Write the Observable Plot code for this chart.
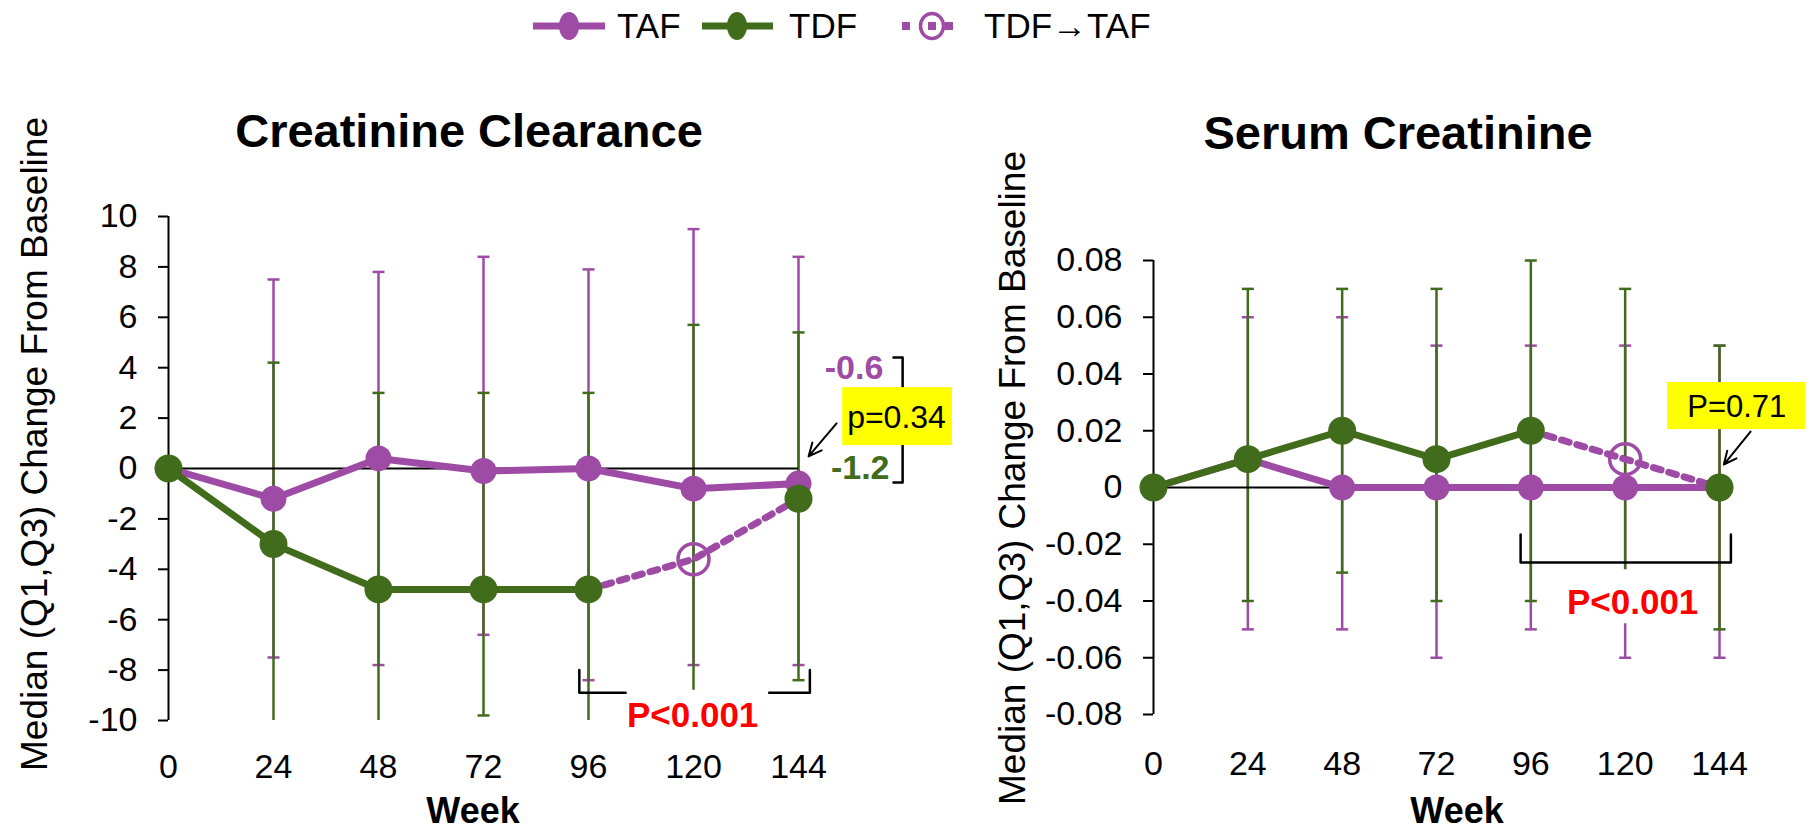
<!DOCTYPE html>
<html><head><meta charset="utf-8">
<script src="https://cdn.jsdelivr.net/npm/d3@7"></script>
<script src="https://cdn.jsdelivr.net/npm/@observablehq/plot@0.6"></script>
<style>
body{margin:0;background:#fff;}
#page{position:relative;width:1820px;height:830px;overflow:hidden;font-family:"Liberation Sans",Arial,sans-serif;background:#fff;}
.chart{position:absolute;top:60px;}
#overlay{position:absolute;left:0;top:0;pointer-events:none;}
</style></head>
<body><div id="page"><div id="left" class="chart" style="left:0"></div><div id="right" class="chart" style="left:920px"></div><svg id="overlay" width="1820" height="830"></svg></div>
<script>
// ---- data ----
const weeks = [0, 24, 48, 72, 96, 120, 144];
const switchWeeks = [96, 120, 144];

// Creatinine clearance (median, Q1, Q3)
const ccTAF   = [0, -1.2, 0.4, -0.1, 0, -0.8, -0.6];
const ccTAFq1 = [null, -7.5, -7.8, -6.6, -8.4, -7.8, -7.8];
const ccTAFq3 = [null, 7.5, 7.8, 8.4, 7.9, 9.5, 8.4];
const ccTDF   = [0, -3.0, -4.8, -4.8, -4.8, null, -1.2];
const ccTDFq1 = [null, -10.6, -10.6, -9.8, -10.6, -10.2, -8.4];
const ccTDFq3 = [null, 4.2, 3.0, 3.0, 3.0, 5.7, 5.4];
const ccSwitch = [-4.8, -3.6, -1.2];

// Serum creatinine (median, Q1, Q3)
const scTAF   = [0, 0.01, 0, 0, 0, 0, 0];
const scTAFq1 = [null, -0.05, -0.05, -0.06, -0.05, -0.06, -0.06];
const scTAFq3 = [null, 0.06, 0.06, 0.05, 0.05, 0.05, 0.05];
const scTDF   = [0, 0.01, 0.02, 0.01, 0.02, null, 0];
const scTDFq1 = [null, -0.04, -0.03, -0.04, -0.04, -0.04, -0.05];
const scTDFq3 = [null, 0.07, 0.07, 0.07, 0.08, 0.07, 0.05];
const scSwitch = [0.02, 0.01, 0];

const ccTicks = [-10, -8, -6, -4, -2, 0, 2, 4, 6, 8, 10];
const scTicks = [-0.08, -0.06, -0.04, -0.02, 0, 0.02, 0.04, 0.06, 0.08];
const weekTicks = [0, 24, 48, 72, 96, 120, 144];

const PURPLE = "#9E4BA6", GREEN = "#416C1C", FONT = "'Liberation Sans', Arial, sans-serif";

// annotations (in data units)
const ccAnn = {
  pText: "P<0.001", pAt: [119.8, -9.8], mask: [105, 137, -8.8, -11],
  brackets: [[[93.9, -8.0], [93.9, -8.9], [104.5, -8.9]], [[137.3, -8.9], [146.6, -8.9], [146.6, -8.0]]],
  box: [154.1, 179.2, 0.91, 3.21], boxText: "p=0.34", boxAt: [166.4, 2.0], boxFont: 32,
  arrow: [152.7, 1.79, 146.3, 0.48],
  extra: true
};
const scAnn = {
  pText: "P<0.001", pAt: [121.9, -0.0405], mask: [105, 139, -0.029, -0.048],
  brackets: [[[93.4, -0.0166], [93.4, -0.0264], [146.9, -0.0264], [146.9, -0.0166]]],
  box: [130.8, 165.9, 0.0204, 0.037], boxText: "P=0.71", boxAt: [148.4, 0.0285], boxFont: 31,
  arrow: [151.9, 0.0197, 145.1, 0.0081],
  extra: false
};

const hbar = { draw(ctx, size) { const r = Math.sqrt(size / Math.PI); ctx.moveTo(-r, 0); ctx.lineTo(r, 0); } };

function rows(vals, q1, q3) {
  return weeks.map((w, i) => ({ week: w, v: vals[i], q1: q1[i], q3: q3[i] }));
}

function errbars(data, color, dom) {
  const [lo, hi] = dom;
  const d = data.filter(r => r.q1 != null && r.q3 != null);
  const inside = k => d.filter(r => r[k] >= lo - 1e-9 && r[k] <= hi + 1e-9);
  return [
    Plot.ruleX(d, { x: "week", y1: r => Math.max(lo, r.q1), y2: r => Math.min(hi, r.q3), stroke: color, strokeWidth: 2.5 }),
    Plot.dot(inside("q1"), { x: "week", y: "q1", symbol: hbar, r: 6, stroke: color, fill: "none", strokeWidth: 2.5 }),
    Plot.dot(inside("q3"), { x: "week", y: "q3", symbol: hbar, r: 6, stroke: color, fill: "none", strokeWidth: 2.5 })
  ];
}

function chart(cfg) {
  const taf = rows(cfg.taf, cfg.tafQ1, cfg.tafQ3);
  const tdf = rows(cfg.tdf, cfg.tdfQ1, cfg.tdfQ3);
  const sw = switchWeeks.map((w, i) => ({ week: w, v: cfg.sw[i] }));
  const a = cfg.ann;
  const marks = [
    ...errbars(taf, PURPLE, cfg.yDomain),
    ...errbars(tdf, GREEN, cfg.yDomain),
    Plot.ruleY([0], { x1: 0, x2: 144, stroke: "black", strokeWidth: 2 }),
    Plot.ruleX([0], { stroke: "black", strokeWidth: 2 }),
    Plot.axisY({ ticks: cfg.yTicks, tickSize: 10, tickPadding: 21, tickFormat: cfg.yFmt, fontSize: 34, strokeWidth: 2, label: null }),
    Plot.axisX({ ticks: weekTicks, tickSize: 0, tickPadding: cfg.xPad, tickFormat: d => String(d), fontSize: 34, label: null }),
    Plot.line(taf, { x: "week", y: "v", stroke: PURPLE, strokeWidth: 7 }),
    Plot.dot(taf, { x: "week", y: "v", r: 13, fill: PURPLE }),
    Plot.line(sw, { x: "week", y: "v", stroke: PURPLE, strokeWidth: 7, strokeDasharray: "8,8" }),
    Plot.dot(sw.filter(d => d.week === 120), { x: "week", y: "v", r: 15.5, stroke: PURPLE, strokeWidth: 3.5, fill: "none" }),
    Plot.line(tdf, { x: "week", y: "v", stroke: GREEN, strokeWidth: 7 }),
    Plot.dot(tdf, { x: "week", y: "v", r: 14, fill: GREEN }),
    // p-value bracket and label
    Plot.rect([a.mask], { x1: d => d[0], x2: d => d[1], y1: d => d[2], y2: d => d[3], fill: "white" }),
    ...a.brackets.map(b => Plot.line(b, { x: d => d[0], y: d => d[1], stroke: "black", strokeWidth: 2.5 })),
    Plot.text([a.pText], { x: a.pAt[0], y: a.pAt[1], text: d => d, fill: "#FF0000", fontWeight: "bold", fontSize: 35, textAnchor: "middle" })
  ];
  if (a.extra) {
    const lastTAF = cfg.taf[cfg.taf.length - 1], lastTDF = cfg.tdf[cfg.tdf.length - 1];
    marks.push(
      Plot.text([lastTAF], { x: 163.4, y: 3.97, text: d => String(d), fill: PURPLE, fontWeight: "bold", fontSize: 34, textAnchor: "end" }),
      Plot.text([lastTDF], { x: 164.8, y: 0.0, text: d => String(d), fill: GREEN, fontWeight: "bold", fontSize: 34, textAnchor: "end" }),
      Plot.line([[165.7, 4.4], [167.8, 4.4], [167.8, -0.56], [165.7, -0.56]], { x: d => d[0], y: d => d[1], stroke: "black", strokeWidth: 2.5 })
    );
  }
  marks.push(
    // yellow box on top of the bracket
    Plot.rect([a.box], { x1: d => d[0], x2: d => d[1], y1: d => d[2], y2: d => d[3], fill: "#FFFF00" }),
    Plot.text([a.boxText], { x: a.boxAt[0], y: a.boxAt[1], text: d => d, fill: "black", fontSize: a.boxFont, textAnchor: "middle" }),
    Plot.arrow([a.arrow], { x1: d => d[0], y1: d => d[1], x2: d => d[2], y2: d => d[3], stroke: "black", strokeWidth: 2, headLength: 16, headAngle: 50 })
  );
  return Plot.plot({
    width: cfg.width, height: 770,
    marginLeft: cfg.ml, marginRight: cfg.mr, marginTop: cfg.mt, marginBottom: cfg.mb,
    x: { domain: [0, 144] },
    y: { domain: cfg.yDomain },
    style: { fontFamily: FONT, fontSize: "34px", color: "black", background: "transparent", overflow: "visible" },
    marks
  });
}

document.getElementById("left").append(chart({
  width: 920, ml: 168, mr: 122, mt: 156, mb: 110, yDomain: [-10, 10], yTicks: ccTicks,
  yFmt: d => String(d), xPad: 33,
  taf: ccTAF, tafQ1: ccTAFq1, tafQ3: ccTAFq3, tdf: ccTDF, tdfQ1: ccTDFq1, tdfQ3: ccTDFq3, sw: ccSwitch, ann: ccAnn
}));
document.getElementById("right").append(chart({
  width: 900, ml: 233, mr: 101, mt: 200, mb: 116, yDomain: [-0.08, 0.08], yTicks: scTicks,
  yFmt: d => Math.abs(d) < 1e-9 ? "0" : d.toFixed(2), xPad: 36,
  taf: scTAF, tafQ1: scTAFq1, tafQ3: scTAFq3, tdf: scTDF, tdfQ1: scTDFq1, tdfQ3: scTDFq3, sw: scSwitch, ann: scAnn
}));

// ---- overlay: legend, titles, axis labels ----
const ov = d3.select("#overlay").style("font-family", FONT);
function txt(x, y, s, opt = {}) {
  const t = ov.append("text").attr("x", x).attr("y", y).text(s)
    .attr("font-size", opt.size || 34).attr("font-weight", opt.bold ? "bold" : "normal")
    .attr("text-anchor", opt.anchor || "start").attr("fill", opt.fill || "black");
  if (opt.rotate) t.attr("transform", `rotate(-90 ${x} ${y})`);
  return t;
}
// legend
const LY = 26;
ov.append("line").attr("x1", 533).attr("x2", 605).attr("y1", LY).attr("y2", LY).attr("stroke", PURPLE).attr("stroke-width", 7);
ov.append("ellipse").attr("cx", 569).attr("cy", LY).attr("rx", 10).attr("ry", 14).attr("fill", PURPLE);
txt(617, 38, "TAF", { size: 35 });
ov.append("line").attr("x1", 702).attr("x2", 773).attr("y1", LY).attr("y2", LY).attr("stroke", GREEN).attr("stroke-width", 7);
ov.append("ellipse").attr("cx", 737).attr("cy", LY).attr("rx", 10).attr("ry", 14).attr("fill", GREEN);
txt(789, 38, "TDF", { size: 35 });
[902, 928, 945].forEach(x => ov.append("rect").attr("x", x).attr("y", LY - 4).attr("width", 8).attr("height", 8).attr("fill", PURPLE));
ov.append("ellipse").attr("cx", 932).attr("cy", LY).attr("rx", 11.5).attr("ry", 12.5).attr("fill", "none").attr("stroke", PURPLE).attr("stroke-width", 3.5);
txt(984, 38, "TDF\u2192TAF", { size: 35 });
// titles
txt(469, 147, "Creatinine Clearance", { size: 47, bold: true, anchor: "middle" });
txt(1398, 149, "Serum Creatinine", { size: 47, bold: true, anchor: "middle" });
// y labels
txt(47, 444, "Median (Q1,Q3) Change From Baseline", { size: 37, anchor: "middle", rotate: true });
txt(1025, 478, "Median (Q1,Q3) Change From Baseline", { size: 37, anchor: "middle", rotate: true });
// x labels
txt(473, 823, "Week", { size: 36, bold: true, anchor: "middle" });
txt(1457, 823, "Week", { size: 36, bold: true, anchor: "middle" });
</script></body></html>
